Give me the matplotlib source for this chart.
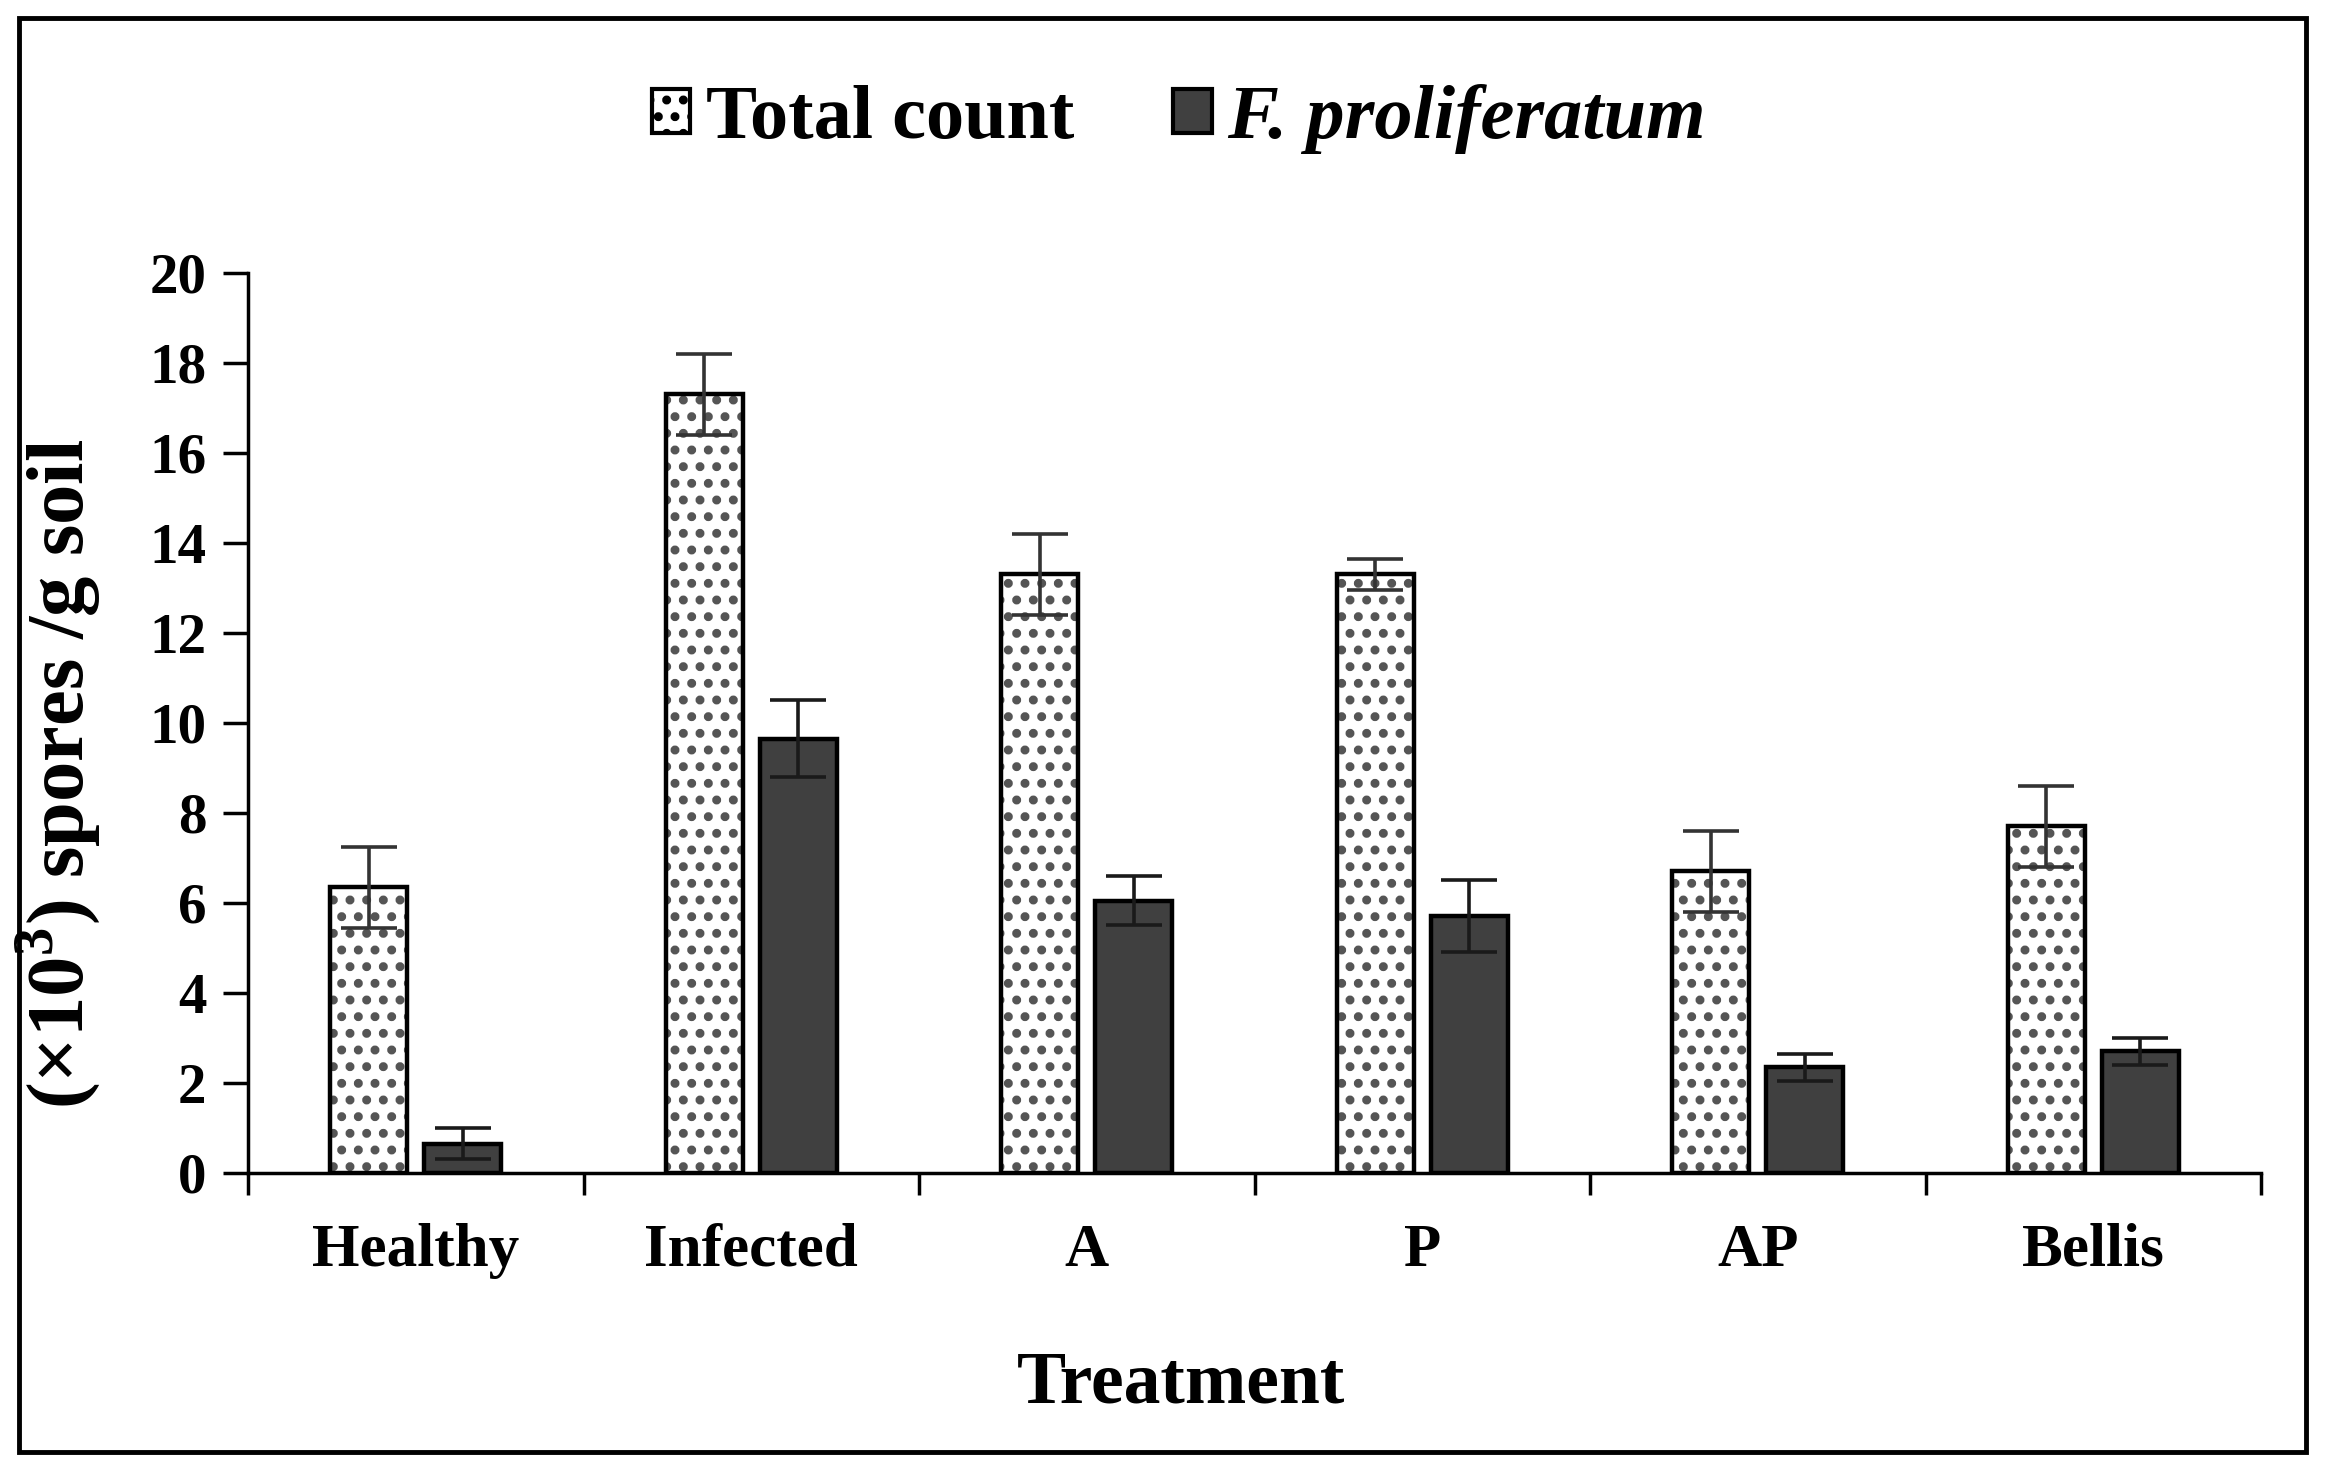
import numpy as np
import matplotlib.pyplot as plt
from matplotlib.patches import Rectangle, Patch

categories = ['Healthy', 'Infected', 'A', 'P', 'AP', 'Bellis']
total_count = [6.35, 17.3, 13.3, 13.3, 6.7, 7.7]
total_err = [0.9, 0.9, 0.9, 0.35, 0.9, 0.9]
f_prolif = [0.65, 9.65, 6.05, 5.7, 2.35, 2.7]
f_prolif_err = [0.35, 0.85, 0.55, 0.8, 0.3, 0.3]

plt.rcParams['font.family'] = ['Liberation Serif', 'DejaVu Serif']
plt.rcParams['font.weight'] = 'bold'
plt.rcParams['mathtext.fontset'] = 'custom'
plt.rcParams['mathtext.rm'] = 'Liberation Serif:bold'
plt.rcParams['mathtext.bf'] = 'Liberation Serif:bold'
plt.rcParams['hatch.linewidth'] = 4.0


def main():
    fig = plt.figure(figsize=(23.25, 14.73), dpi=100)
    ax = fig.add_axes([0.1067, 0.2037, 0.8658, 0.611])

    x = np.arange(len(categories)) + 0.5
    width = 0.23
    off = 0.14

    # dotted bars: hatch in grey, outline in black on top
    ax.bar(x - off, total_count, width, color='white', edgecolor='#555555',
           hatch='.', linewidth=0, zorder=2)
    ax.bar(x - off, total_count, width, fill=False, edgecolor='black',
           linewidth=3.2, zorder=3)
    ax.errorbar(x - off, total_count, yerr=total_err, fmt='none',
                ecolor='#333333', elinewidth=2.6, capsize=20, capthick=2.6,
                zorder=4)

    ax.bar(x + off, f_prolif, width, color='#404040', edgecolor='black',
           linewidth=3.2, zorder=3)
    ax.errorbar(x + off, f_prolif, yerr=f_prolif_err, fmt='none',
                ecolor='#1a1a1a', elinewidth=2.6, capsize=20, capthick=2.6,
                zorder=4)

    ax.set_xlim(0, len(categories))
    ax.set_ylim(0, 20)
    ax.set_yticks(np.arange(0, 21, 2))
    ax.set_xticks(np.arange(len(categories) + 1))
    ax.set_xticklabels([])
    ax.set_xticks(x, minor=True)
    ax.set_xticklabels(categories, minor=True)

    ax.tick_params(axis='y', direction='out', length=18, width=2.5,
                   labelsize=41, pad=12)
    ax.tick_params(axis='x', which='major', direction='out', length=16,
                   width=2.5)
    ax.tick_params(axis='x', which='minor', length=0, labelsize=44, pad=36)

    for s in ['top', 'right']:
        ax.spines[s].set_visible(False)
    for s in ['left', 'bottom']:
        ax.spines[s].set_linewidth(2.5)

    ax.set_ylabel(r'(×10$^{3}$) spores /g soil', fontsize=58,
                  fontweight='bold')
    ax.yaxis.set_label_coords(-0.072, 0.443)
    fig.text(0.508, 0.06, 'Treatment', fontsize=53, fontweight='bold',
             ha='center', va='center')

    handles = [Patch(facecolor='white', edgecolor='black', hatch='.',
                     linewidth=3),
               Patch(facecolor='#404040', edgecolor='black', linewidth=3)]
    leg = fig.legend(handles, ['Total count', 'F. proliferatum'],
                     loc='center', bbox_to_anchor=(0.507, 0.919), ncol=2,
                     frameon=False, fontsize=55, handlelength=0.5,
                     handleheight=0.5, handletextpad=0.2, columnspacing=1.3)
    leg.get_texts()[1].set_style('italic')

    # outer frame
    fig.patches.append(Rectangle((0.008, 0.014), 0.984, 0.974,
                                 transform=fig.transFigure, fill=False,
                                 edgecolor='black', linewidth=3.5))

    fig.savefig('out.png', dpi=100)


if __name__ == '__main__':
    main()
